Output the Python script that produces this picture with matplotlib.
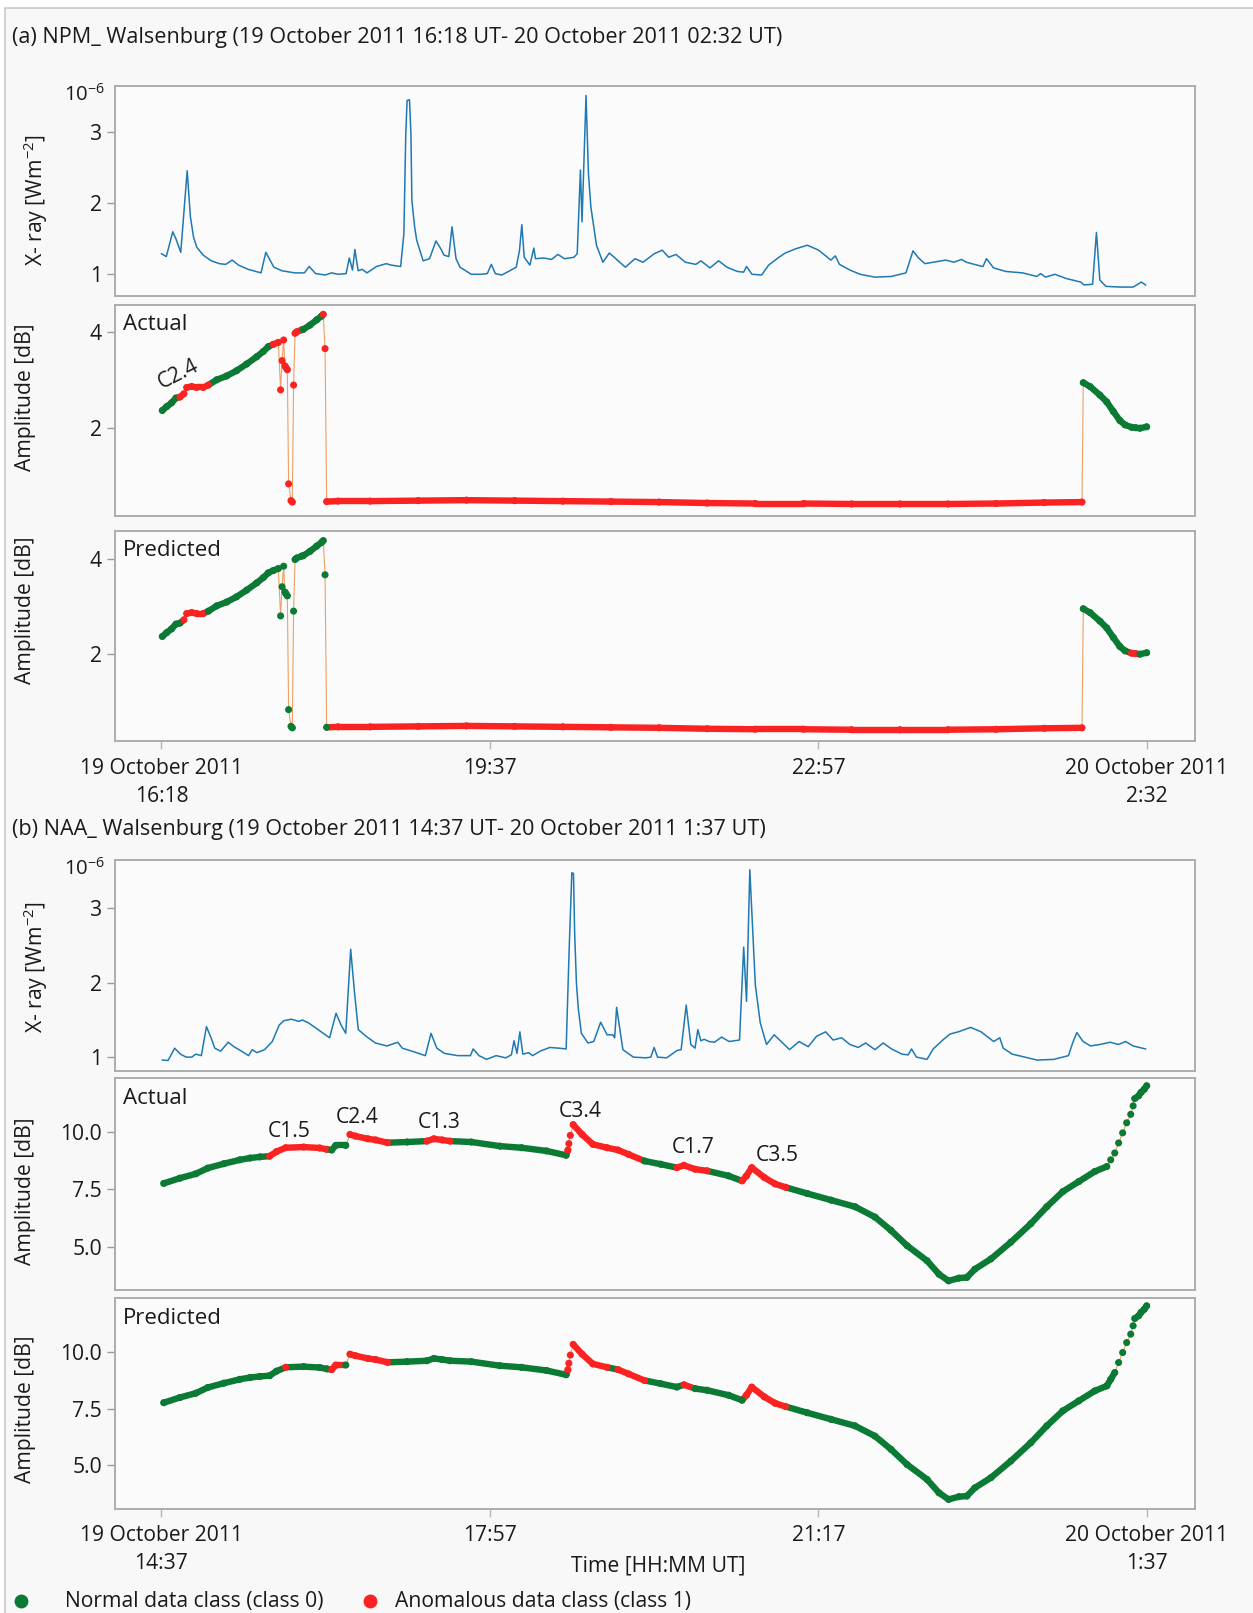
import numpy as np
import matplotlib
matplotlib.use("Agg")
import matplotlib.pyplot as plt
from matplotlib.lines import Line2D
from matplotlib.patches import Rectangle

plt.rcParams['font.family'] = ['Open Sans', 'DejaVu Sans']
plt.rcParams['mathtext.fontset'] = 'custom'
plt.rcParams['mathtext.rm'] = 'Open Sans'
plt.rcParams['mathtext.it'] = 'Open Sans:italic'
plt.rcParams['mathtext.bf'] = 'Open Sans:bold'

# ---------------------------------------------------------------- data
# (a) NPM -> Walsenburg, minutes after 19 Oct 2011 16:18 UT
span_a = 614
ticks_a = ['19 October 2011\n16:18', '19:37', '22:57', '20 October 2011\n2:32']

xray_a_t = [0, 3, 7, 9, 12, 16, 18, 20, 22, 26, 31, 36, 40, 44, 48, 54, 62, 65, 70, 75, 83,
            89, 92, 96, 102, 106, 110, 115, 117, 119, 120.5, 122.5, 125, 128, 134, 140,
            143, 149, 151, 152.2, 153, 154.5, 155.4, 156, 157.7, 159, 163, 167, 171, 174,
            176, 179, 181, 183.5, 186, 193, 199, 203, 205.5, 208, 212, 217, 221, 223,
            224.5, 226, 229.5, 232, 233, 238, 243, 247, 251, 257, 259, 261, 262, 264.5,
            266, 267.5, 271, 275, 279, 284, 289, 295, 300,
            307, 312, 316, 320.5, 326.4, 332.9, 336.1, 341.7, 347.1, 352.3, 358.8,
            362.7, 364.5, 367.9, 373.9, 378.3, 384.7, 388.6, 395.2, 402.4, 409.4,
            417.1, 419.8, 422.4, 428.9, 435.3, 444.5, 454.8, 463.8, 468.2, 471.7,
            475.6, 488.6, 493.7, 498.4, 501.5, 508.1, 511.8, 514, 518.4, 526.1, 536.5,
            545.4, 547.7, 550.8, 556.6, 563.8, 572.8, 574.7, 580.1, 582.5, 584.6,
            588.4, 597.5, 605.3, 610.5, 613.1]
xray_a_v = [1.29, 1.25, 1.60, 1.50, 1.31, 2.46, 1.81, 1.52, 1.38, 1.27, 1.19, 1.15, 1.14,
            1.20, 1.13, 1.07, 1.02, 1.31, 1.10, 1.05, 1.02, 1.02, 1.11, 1.01, 0.99, 1.02,
            1.00, 1.01, 1.23, 1.06, 1.35, 1.05, 1.07, 1.02, 1.11, 1.15, 1.13, 1.11,
            1.57, 2.98, 3.45, 3.46, 2.98, 2.04, 1.67, 1.48, 1.19, 1.22, 1.47, 1.36,
            1.27, 1.25, 1.67, 1.22, 1.10, 1.00, 1.00, 1.01, 1.14, 1.01, 0.99, 1.05,
            1.10, 1.33, 1.70, 1.24, 1.13, 1.37, 1.22, 1.23, 1.21, 1.28, 1.22, 1.24,
            1.29, 2.47, 1.74, 3.52, 2.42, 1.95, 1.41, 1.17, 1.30, 1.20, 1.10, 1.22, 1.17,
            1.29, 1.34, 1.24, 1.28, 1.17, 1.14, 1.19, 1.09, 1.19, 1.10, 1.04,
            1.03, 1.11, 1.00, 0.99, 1.13, 1.24, 1.30, 1.36, 1.41, 1.34,
            1.20, 1.26, 1.14, 1.06, 1.00, 0.96, 0.97, 1.02, 1.33, 1.23,
            1.15, 1.20, 1.17, 1.21, 1.17, 1.13, 1.11, 1.22, 1.09, 1.04, 1.02,
            0.97, 1.01, 0.96, 1.00, 0.94, 0.89, 0.85, 0.86, 1.59, 0.92,
            0.83, 0.82, 0.82, 0.89, 0.85]

amp_a_t = [0.5, 3.2, 6.3, 9.0, 11.5, 14.0, 15.7, 18.8, 21.9, 26.0, 29.2, 34.4, 40.6,
           46.8, 53.1, 59.3, 63.4, 66.5, 69.7, 72.8, 74.2, 75.1, 76.1, 76.9, 77.6,
           78.4, 79.2, 80.7, 81.5, 82.3, 83.2, 84.2, 87.3, 88.3, 92.5, 96.7, 99.8,
           100.8, 101.9, 102.9, 110, 130, 160, 190, 220, 250, 280, 310, 340, 370,
           400, 430, 460, 490, 520, 550, 573.5, 574.3, 578.5, 584.7, 588.9, 593.0,
           597.1, 600.3, 604.4, 607.0, 609.6, 613.8]
amp_a_v = [2.37, 2.45, 2.53, 2.63, 2.65, 2.72, 2.85, 2.87, 2.85, 2.85, 2.90, 3.01, 3.09,
           3.20, 3.34, 3.49, 3.60, 3.70, 3.75, 3.79, 2.80, 3.41, 3.84, 3.30, 3.26,
           3.22, 0.84, 0.49, 0.46, 2.90, 3.98, 4.01, 4.05, 4.06, 4.15, 4.26, 4.34,
           4.375, 3.66, 0.47, 0.48, 0.48, 0.49, 0.50, 0.49, 0.48, 0.47, 0.46, 0.44, 0.43,
           0.43, 0.42, 0.42, 0.42, 0.43, 0.45, 0.46, 2.95, 2.87, 2.69, 2.55, 2.35,
           2.16, 2.07, 2.02, 2.01, 2.00, 2.03]
anom_a_actual = [(10, 30), (69.5, 88), (100.5, 574)]
anom_a_pred = [(13, 27), (103.5, 574), (603, 608)]

# (b) NAA -> Walsenburg, minutes after 19 Oct 2011 14:37 UT
span_b = 660
ticks_b = ['19 October 2011\n14:37', '17:57', '21:17', '20 October 2011\n1:37']

xray_b_t = [0.6, 4.4, 8.8, 12.7, 16.5, 20.3, 22.9, 26.7, 30.1, 33.2, 35.7, 39.6, 44.7,
            48.5, 53.6, 58.3, 60.8, 63.9, 69, 74.2, 78.8, 81.9, 87, 92.1, 94.2, 98.5,
            104.9, 112.6, 116.9, 120.3, 123.4, 126.7, 129.3, 131.8, 137, 143.3, 151,
            158.2, 161.3, 167.7, 176.7, 180.5, 184.4, 189.5, 198.4, 206.9, 208.7,
            212.6, 217.7, 224.1, 230.5, 234.3, 236.1, 238.1, 240, 242, 245.9, 248.5,
            253.6, 260, 266.3, 271, 273, 274.8, 275.9, 276.7, 277.9, 279.2, 281.2, 285.6,
            289.5, 294.1, 298.4, 302.2, 303.5, 304.8, 309, 316, 324.3, 327.7, 329.9, 332.2,
            338.3, 345.3, 348, 351.4, 354.5, 357.3, 359.2, 361.2, 363.4, 366.7, 370.3,
            375.1, 380.1, 387.1, 389.9, 391.8, 394, 395.5, 397.7, 401, 405.2, 410.3,
            415, 420.6, 427, 433.1, 438.7, 444.8, 449.8, 455.5, 461, 466.6, 471.6,
            477.8, 483.3, 488.9, 495.9, 500.1, 502.3, 505.6, 512.7, 516.8, 523.8, 528,
            533.6, 541.9, 548.9, 557.3, 561.4, 563.7, 569.8, 578.2, 586.5, 597.7,
            607.4, 610.2, 613, 617.2, 622.2, 628.4, 635.3, 640.9, 645.7, 650.7, 654.9,
            659]
xray_b_v = [0.96, 0.955, 1.12, 1.04, 1.00, 1.00, 1.04, 1.02, 1.41, 1.26, 1.12, 1.08, 1.20,
            1.14, 1.08, 1.02, 1.10, 1.06, 1.10, 1.21, 1.43, 1.49, 1.51, 1.48, 1.50, 1.46,
            1.37, 1.26, 1.59, 1.43, 1.32, 2.45, 1.86, 1.37, 1.28, 1.19, 1.15,
            1.20, 1.12, 1.08, 1.02, 1.32, 1.12, 1.05, 1.02, 1.02, 1.11,
            1.02, 0.97, 1.02, 0.99, 1.03, 1.22, 1.05, 1.34, 1.04, 1.06, 1.02,
            1.08, 1.13, 1.12, 1.11, 2.44, 3.48, 3.47, 2.66, 1.99, 1.64, 1.32, 1.19,
            1.21, 1.47, 1.30, 1.30, 1.26, 1.67, 1.10, 1.00, 0.99, 1.00, 1.13, 1.00,
            0.99, 1.09, 1.10, 1.70, 1.17, 1.12, 1.37, 1.22, 1.24, 1.21, 1.20,
            1.27, 1.21, 1.23, 2.48, 1.75, 3.52, 2.89, 1.97, 1.46, 1.17, 1.30,
            1.21, 1.10, 1.21, 1.14, 1.28, 1.34, 1.23, 1.26, 1.17, 1.13, 1.19,
            1.10, 1.19, 1.11, 1.04, 1.03, 1.11, 1.00, 0.97, 1.11, 1.24, 1.31,
            1.34, 1.40, 1.34, 1.21, 1.26, 1.12, 1.04, 1.00, 0.96, 0.97,
            1.02, 1.19, 1.33, 1.21, 1.15, 1.17, 1.20, 1.17, 1.21, 1.15, 1.13,
            1.11]

amp_b_t = [1.5, 12.3, 23.0, 31.0, 41.7, 52.4, 59.3, 66.0, 72.4, 77.0, 83.2, 95.2, 105.9,
           110.7, 114.0, 116.7, 123.4, 126.2, 129.9, 138.2, 143.4, 151.4, 164.5, 177.7,
           182.4, 188.0, 193.2, 207.5, 226.7, 241.1, 257.8, 271.0, 272.2, 272.8, 273.8,
           275.7, 281.7, 288.9, 298.4, 305.7, 312.8, 323.5, 334.3, 345.1, 349.9, 357.4,
           365.4, 379.8, 388.8, 391.7, 395.3, 403.7, 410.9, 418.0, 432.4, 448.4, 464.5,
           477.8, 488.5, 499.3, 512.7, 520.7, 527.1, 534.0, 539.4, 544.7, 555.5, 568.8,
           582.2, 592.9, 603.6, 614.3, 625.0, 633.1, 635.7, 638.4, 641.0, 643.7, 646.4,
           649.1, 650.7, 651.8, 654.4, 656.0, 658.2, 659.8]
amp_b_v = [7.76, 7.99, 8.18, 8.43, 8.62, 8.79, 8.87, 8.92, 8.95, 9.15, 9.32, 9.35, 9.31,
           9.25, 9.22, 9.42, 9.42, 9.90, 9.83, 9.71, 9.66, 9.54, 9.57, 9.61,
           9.71, 9.66, 9.61, 9.57, 9.39, 9.32, 9.18, 8.99, 9.22, 9.50, 9.86,
           10.33, 9.90, 9.47, 9.32, 9.22, 9.03, 8.74, 8.60, 8.45, 8.55, 8.38,
           8.31, 8.09, 7.87, 8.09, 8.45, 8.02, 7.74, 7.59, 7.32, 7.03, 6.74,
           6.29, 5.71, 5.04, 4.38, 3.79, 3.50, 3.62, 3.65, 4.01, 4.46, 5.19,
           6.00, 6.74, 7.40, 7.84, 8.28, 8.50, 8.79, 9.09, 9.53, 9.97, 10.41,
           10.78, 11.15, 11.47, 11.59, 11.74, 11.88, 12.03]
anom_b_actual = [(72, 112), (124, 151.5), (177, 193.5), (271.5, 323.5), (345, 365.5),
                 (388.5, 418.5)]
anom_b_pred = [(81, 86), (114, 122.5), (125.5, 151.5), (271.5, 301), (303.5, 306),
               (309, 326), (349.5, 355), (389, 420.5)]

flares_a = [('C2.4', 10.6, 3.12, 27)]
flares_b = [('C1.5', 85.6, 10.04), ('C2.4', 131, 10.63), ('C1.3', 186, 10.41),
            ('C3.4', 280.5, 10.91), ('C1.7', 355.9, 9.32), ('C3.5', 412.1, 8.96)]

# ---------------------------------------------------------------- style
GREEN = '#0a7a34'
RED = '#fb2222'
ORANGE = '#eba166'
BLUE = '#1f79b3'
SPINE = '#adadad'
TXT = '#1a1a1a'
FS = 15.2

W, H = 1253, 1613
fig = plt.figure(figsize=(W / 100, H / 100), dpi=100, facecolor='white')
fig.add_artist(Rectangle((5 / W, -0.01), 1.1, 1 - 8 / H + 0.01, transform=fig.transFigure,
                         facecolor='#f8f8f8', edgecolor='#c9c9c9', lw=1.2, zorder=-10))

LEFT, RIGHT = 115.2, 1194.5
TICK0, TICK1 = 161.5, 1147.0


def make_axes(top, bottom):
    ax = fig.add_axes([LEFT / W, 1 - bottom / H, (RIGHT - LEFT) / W, (bottom - top) / H])
    ax.px_height = bottom - top
    return ax


def style(ax, span, xt_labels=None):
    ax.set_facecolor('#fbfbfb')
    for s in ax.spines.values():
        s.set_color(SPINE)
        s.set_linewidth(1.4)
    ax.set_xlim(-0.04698 * span, 1.0482 * span)
    ax.tick_params(axis='y', length=5.5, width=1.0, color='#9a9a9a', pad=4,
                   labelsize=FS, labelcolor=TXT)
    if xt_labels is None:
        ax.set_xticks([])
    else:
        ax.set_xticks(np.linspace(0, span, 4))
        ax.set_xticklabels(xt_labels, linespacing=1.45)
        ax.tick_params(axis='x', length=6, width=1.0, color='#b5b5b5', pad=6,
                       labelsize=FS, labelcolor=TXT)


def in_any(x, intervals):
    return any(a <= x < b for a, b in intervals)


def draw_amp(ax, t, v, anomalies, ylim, span):
    t = np.asarray(t, float)
    v = np.asarray(v, float)
    ax.plot(t, v, color=ORANGE, lw=0.8, zorder=1)
    px_x = (TICK1 - TICK0) / span
    px_y = ax.px_height / (ylim[1] - ylim[0])
    for i in range(len(t) - 1):
        dx = (t[i + 1] - t[i]) * px_x
        dy = abs(v[i + 1] - v[i]) * px_y
        # consecutive readings join into a continuous band unless they step steeply
        if dy < 6 or dy < 1.7 * dx:
            col = RED if in_any(0.5 * (t[i] + t[i + 1]), anomalies) else GREEN
            ax.plot(t[i:i + 2], v[i:i + 2], color=col, lw=4.6,
                    solid_capstyle='round', zorder=2)
    cols = [RED if in_any(x, anomalies) else GREEN for x in t]
    ax.scatter(t, v, c=cols, s=26, linewidths=0, zorder=3)
    ax.set_ylim(*ylim)


def xray_panel(top, bottom, t, v, span, ylim, exp_y):
    ax = make_axes(top, bottom)
    ax.plot(t, v, color=BLUE, lw=1.1, solid_joinstyle='round')
    style(ax, span)
    ax.set_ylim(*ylim)
    ax.set_yticks([1, 2, 3])
    ax.text(-0.0095, exp_y, r'10$^{-6}$', transform=ax.transAxes, ha='right',
            va='center', fontsize=FS - 0.5, color=TXT)
    return ax


def corner_label(ax, text):
    ax.text(0.007, 0.955, text, transform=ax.transAxes, ha='left', va='top',
            fontsize=FS + 0.8, color=TXT)


def ylabel(y_px, text, x_px=26):
    fig.text(x_px / W, 1 - y_px / H, text, rotation=90, ha='center', va='center',
             fontsize=FS, color=TXT)


# ---------------------------------------------------------------- panel (a)
fig.text(12 / W, 1 - 37 / H, '(a) NPM_ Walsenburg (19 October 2011 16:18 UT- 20 October 2011 02:32 UT)',
         fontsize=FS + 0.4, ha='left', va='center', color=TXT)

ax = xray_panel(86.4, 296.3, xray_a_t, xray_a_v, span_a, (0.69, 3.648), 0.958)
ylabel(200.6, 'X- ray [Wm$^{-2}$]', 36)

ylim_a = (0.18, 4.58)
ax = make_axes(304.5, 515.5)
draw_amp(ax, amp_a_t, amp_a_v, anom_a_actual, ylim_a, span_a)
style(ax, span_a)
ax.set_yticks([2, 4])
corner_label(ax, 'Actual')
for name, x, y, rot in flares_a:
    ax.text(x, y, name, rotation=rot, ha='center', va='center', fontsize=FS,
            color=TXT, zorder=5)
ylabel(397.6, 'Amplitude [dB]')

ax = make_axes(530.8, 741.2)
draw_amp(ax, amp_a_t, amp_a_v, anom_a_pred, ylim_a, span_a)
style(ax, span_a, ticks_a)
ax.set_yticks([2, 4])
corner_label(ax, 'Predicted')
ylabel(610.5, 'Amplitude [dB]')

# ---------------------------------------------------------------- panel (b)
fig.text(12 / W, 1 - 829 / H, '(b) NAA_ Walsenburg (19 October 2011 14:37 UT- 20 October 2011 1:37 UT)',
         fontsize=FS + 0.4, ha='left', va='center', color=TXT)

ax = xray_panel(859.5, 1070.5, xray_b_t, xray_b_v, span_b, (0.82, 3.658), 0.955)
ylabel(967, 'X- ray [Wm$^{-2}$]', 36)

ylim_b = (3.1, 12.36)
ax = make_axes(1078.2, 1290)
draw_amp(ax, amp_b_t, amp_b_v, anom_b_actual, ylim_b, span_b)
style(ax, span_b)
ax.set_yticks([5.0, 7.5, 10.0])
ax.set_yticklabels(['5.0', '7.5', '10.0'])
corner_label(ax, 'Actual')
for name, x, y in flares_b:
    ax.text(x, y, name, ha='center', va='center', fontsize=FS, color=TXT, zorder=5)
ylabel(1190.7, 'Amplitude [dB]')

ax = make_axes(1298.3, 1508.5)
draw_amp(ax, amp_b_t, amp_b_v, anom_b_pred, ylim_b, span_b)
style(ax, span_b, ticks_b)
ax.set_yticks([5.0, 7.5, 10.0])
ax.set_yticklabels(['5.0', '7.5', '10.0'])
corner_label(ax, 'Predicted')
ylabel(1409, 'Amplitude [dB]')

fig.text(658 / W, 1 - 1566 / H, 'Time [HH:MM UT]', ha='center', va='center',
         fontsize=FS, color=TXT)

# ---------------------------------------------------------------- legend
legend_items = [('Normal data class (class 0)', GREEN, 20.6, 65.0),
                ('Anomalous data class (class 1)', RED, 369.5, 395.5)]
for label, col, mx, tx in legend_items:
    fig.add_artist(Line2D([mx / W], [1 - 1601 / H], ls='', marker='o', markersize=10,
                          color=col, mew=0, transform=fig.transFigure))
    fig.text(tx / W, 1 - 1601 / H, label, ha='left', va='center', fontsize=FS, color=TXT)

fig.savefig('out.png', dpi=100, facecolor=fig.get_facecolor())
